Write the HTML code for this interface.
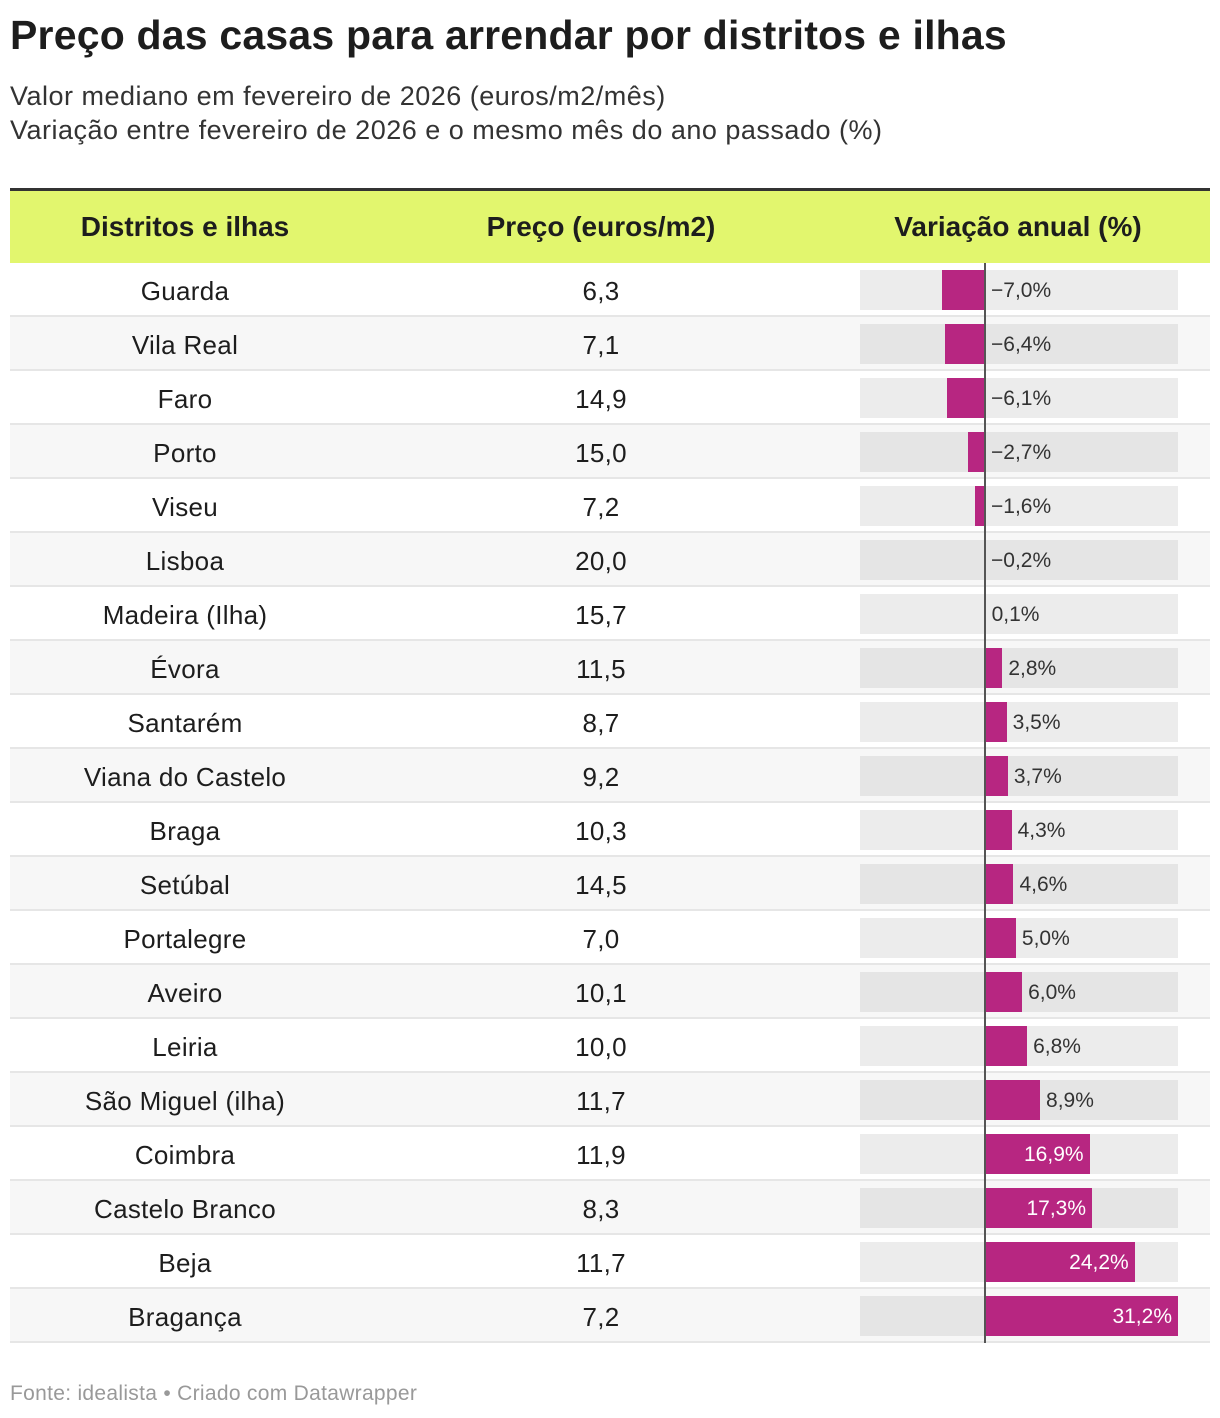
<!DOCTYPE html>
<html><head><meta charset="utf-8">
<style>
body{margin:0;background:#fff;font-family:"Liberation Sans",sans-serif;color:#1d1d1d;width:1220px;height:1418px;position:relative;overflow:hidden}
.abs{position:absolute}
#title{left:10px;top:12px;font-size:41px;font-weight:bold;white-space:nowrap;letter-spacing:0.2px}
.sub{left:10px;font-size:27px;color:#333;white-space:nowrap;letter-spacing:0.5px}
#hdr{left:10px;top:188px;width:1200px;height:72px;background:#e2f66e;border-top:3px solid #333;border-bottom:3px solid #333}
.hc{position:absolute;top:0;height:72px;line-height:72px;font-weight:bold;font-size:28px;text-align:center;transform:translateX(-50%);white-space:nowrap}
.row{position:absolute;left:10px;width:1200px;height:52px;border-bottom:2px solid #e6e6e6}
.cell{position:absolute;top:0;height:54px;line-height:56px;font-size:26px;transform:translateX(-50%);white-space:nowrap;letter-spacing:0.3px}
.bg{position:absolute;height:40px}
.bar{position:absolute;height:40px;background:#b72681}
.lab{position:absolute;height:40px;line-height:42px;font-size:21px;white-space:nowrap}
#foot{left:10px;top:1382px;font-size:21px;color:#999;letter-spacing:0.3px}
</style></head><body>
<div id="title" class="abs">Preço das casas para arrendar por distritos e ilhas</div>
<div class="abs sub" style="top:81px">Valor mediano em fevereiro de 2026 (euros/m2/mês)</div>
<div class="abs sub" style="top:115px">Variação entre fevereiro de 2026 e o mesmo mês do ano passado (%)</div>
<div id="hdr" class="abs">
<div class="hc" style="left:175px">Distritos e ilhas</div>
<div class="hc" style="left:591px">Preço (euros/m2)</div>
<div class="hc" style="left:1008px">Variação anual (%)</div>
</div>
<div id="rows"></div>
<div id="foot" class="abs">Fonte: idealista • Criado com Datawrapper</div>
<script>
const districts=["Guarda","Vila Real","Faro","Porto","Viseu","Lisboa","Madeira (Ilha)","Évora","Santarém","Viana do Castelo","Braga","Setúbal","Portalegre","Aveiro","Leiria","São Miguel (ilha)","Coimbra","Castelo Branco","Beja","Bragança"];
const prices=[6.3,7.1,14.9,15.0,7.2,20.0,15.7,11.5,8.7,9.2,10.3,14.5,7.0,10.1,10.0,11.7,11.9,8.3,11.7,7.2];
const variation=[-7.0,-6.4,-6.1,-2.7,-1.6,-0.2,0.1,2.8,3.5,3.7,4.3,4.6,5.0,6.0,6.8,8.9,16.9,17.3,24.2,31.2];
const fmt=v=>v.toFixed(1).replace('.',',');
const zeroX=985, pxPer=(1178-985)/31.2, x=v=>zeroX+v*pxPer;
const root=document.getElementById('rows');
districts.forEach((d,i)=>{
  const top=263+54*i;
  const r=document.createElement('div');
  r.className='row';r.style.top=top+'px';r.style.background=i%2?'#f7f7f7':'#fff';
  
  
  const c1=document.createElement('div');c1.className='cell';c1.style.left='175px';c1.textContent=d;
  
  
  const c2=document.createElement('div');c2.className='cell';c2.style.left='591px';c2.textContent=fmt(prices[i]);
  
  
  r.appendChild(c1);r.appendChild(c2);root.appendChild(r);
  const bg=document.createElement('div');bg.className='bg';
  bg.style.cssText=`left:860px;top:${top+7}px;width:318px;background:${i%2?'#e5e5e5':'#ececec'}`;
  
  
  document.body.appendChild(bg);
  const v=variation[i];
  const b=document.createElement('div');b.className='bar';
  const l=Math.min(x(v),zeroX), w=Math.max(Math.abs(x(v)-zeroX),1);
  b.style.cssText=`left:${l}px;top:${top+7}px;width:${w}px`;
  
  
  document.body.appendChild(b);
  const lb=document.createElement('div');lb.className='lab';
  lb.textContent=(v<0?'\u2212':'')+fmt(Math.abs(v))+'%';
  
  
  if(v>12){lb.style.cssText=`top:${top+7}px;right:${1220-x(v)+6}px;color:#fff`;}
  else{lb.style.cssText=`top:${top+7}px;left:${Math.max(x(v),zeroX)+6}px;color:#333`;}
  document.body.appendChild(lb);
});
const zl=document.createElement('div');
zl.style.cssText=`position:absolute;left:${zeroX-1}px;top:263px;width:2px;height:1080px;background:#555`;


document.body.appendChild(zl);
</script>
</body></html>
